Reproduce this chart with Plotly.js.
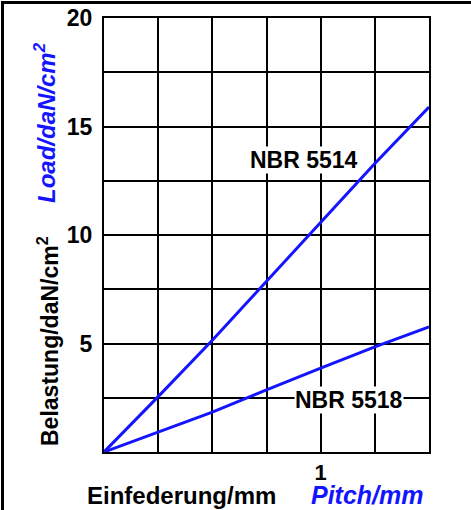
<!DOCTYPE html>
<html>
<head>
<meta charset="utf-8">
<script src="https://cdn.plot.ly/plotly-3.0.1.min.js"></script>
<style>
  html, body { margin: 0; padding: 0; background: #fff; }
  #wrap { position: relative; width: 471px; height: 510px; }
  #chart { width: 471px; height: 510px; }
  #frame { position: absolute; left: 1px; top: 1px; width: 470px; height: 509px;
           border-top: 3px solid #000; border-left: 3px solid #000; box-sizing: border-box;
           pointer-events: none; }
</style>
</head>
<body>
<div id="wrap">
  <div id="chart"></div>
  <div id="frame"></div>
</div>
<script>
// Deflection (mm)
const deflection = [0, 0.25, 0.5, 0.75, 1.0, 1.25, 1.5];
// Load (daN/cm2)
const nbr5514 = [0, 2.55, 5.15, 7.85, 10.6, 13.3, 15.9];
const nbr5518 = [0, 0.92, 1.84, 2.86, 3.87, 4.84, 5.76];
const seriesNames = ["NBR 5514", "NBR 5518"];
const yTickVals = [5, 10, 15, 20];
const xTickVals = [1];
const xTickText = ["1"];

const FONT = "Liberation Sans, Arial, sans-serif";
const BLUE = "#1414ff";

const traces = [
  { x: deflection, y: nbr5514, name: seriesNames[0], mode: "lines",
    line: { color: BLUE, width: 3 }, hoverinfo: "skip" },
  { x: deflection, y: nbr5518, name: seriesNames[1], mode: "lines",
    line: { color: BLUE, width: 3 }, hoverinfo: "skip" }
];

const layout = {
  width: 471, height: 510,
  margin: { l: 104, r: 42, t: 18, b: 58, pad: 0 },
  paper_bgcolor: "#fff", plot_bgcolor: "#fff",
  showlegend: false,
  font: { family: FONT, color: "#000" },
  xaxis: {
    range: [0, 1.5], tickmode: "array", tickvals: xTickVals, ticktext: xTickText,
    showgrid: true, gridcolor: "#000", gridwidth: 2,
    minor: { tickmode: "linear", tick0: 0, dtick: 0.25, showgrid: true, gridcolor: "#000", gridwidth: 2 },
    showline: true, mirror: true, linecolor: "#000", linewidth: 2,
    zeroline: false, ticks: "", ticklabelstandoff: 0,
    tickfont: { family: FONT, size: 22, color: "#000", weight: "bold" },
    fixedrange: true
  },
  yaxis: {
    range: [0, 20], tickmode: "array", tickvals: yTickVals,
    showgrid: true, gridcolor: "#000", gridwidth: 2,
    minor: { tickmode: "linear", tick0: 0, dtick: 2.5, showgrid: true, gridcolor: "#000", gridwidth: 2 },
    showline: true, mirror: true, linecolor: "#000", linewidth: 2,
    zeroline: false, ticks: "", ticklabelstandoff: 5,
    tickfont: { family: FONT, size: 23, color: "#000", weight: "bold" },
    fixedrange: true
  },
  annotations: [
    { text: seriesNames[0], x: 0.923, y: 13.45, xref: "x", yref: "y", showarrow: false,
      xanchor: "center", yanchor: "middle", bgcolor: "#fff", borderpad: 0,
      font: { family: FONT, size: 23, color: "#000", weight: "bold" } },
    { text: seriesNames[1], x: 1.133, y: 2.4, xref: "x", yref: "y", showarrow: false,
      xanchor: "center", yanchor: "middle", bgcolor: "#fff", borderpad: 0,
      font: { family: FONT, size: 23, color: "#000", weight: "bold" } },
    { text: "Belastung/daN/cm<sup>2</sup>", x: -0.172, y: 0.256, xref: "paper", yref: "paper",
      showarrow: false, textangle: -90, xanchor: "center", yanchor: "middle",
      font: { family: FONT, size: 23, color: "#000", weight: "bold" } },
    { text: "<i>Load/daN/cm<sup>2</sup></i>", x: -0.182, y: 0.76, xref: "paper", yref: "paper",
      showarrow: false, textangle: -90, xanchor: "center", yanchor: "middle",
      font: { family: FONT, size: 24, color: BLUE, weight: "bold" } },
    { text: "Einfederung/mm", x: 0.237, y: -0.1, xref: "paper", yref: "paper",
      showarrow: false, xanchor: "center", yanchor: "middle",
      font: { family: FONT, size: 24, color: "#000", weight: "bold" } },
    { text: "<i>Pitch/mm</i>", x: 0.812, y: -0.1, xref: "paper", yref: "paper",
      showarrow: false, xanchor: "center", yanchor: "middle",
      font: { family: FONT, size: 25, color: BLUE, weight: "bold" } }
  ]
};

Plotly.newPlot("chart", traces, layout, { displayModeBar: false, staticPlot: true });
</script>
</body>
</html>
